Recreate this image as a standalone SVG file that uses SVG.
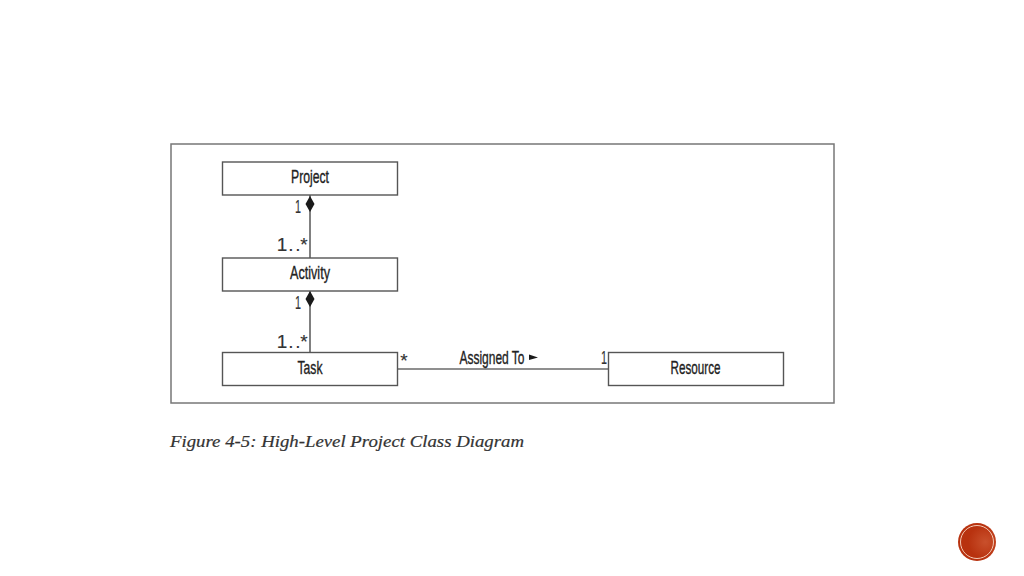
<svg xmlns="http://www.w3.org/2000/svg" width="1024" height="576" viewBox="0 0 1024 576">
<defs>
<radialGradient id="speck" cx="0.72" cy="0.5" r="0.45"><stop offset="0" stop-color="#c9502c"/><stop offset="1" stop-color="#b8320f"/></radialGradient>
</defs>
<style>
.box{fill:#fff;stroke:#555;stroke-width:1.4}
.ln{stroke:#6a6a6a;stroke-width:1.7;fill:none}
.t{font-family:"Liberation Sans",sans-serif;font-size:18.500px;fill:#222;stroke:#222;stroke-width:.35;text-anchor:middle}
.n{font-family:"Liberation Sans",sans-serif;font-size:19px;fill:#333;stroke:#333;stroke-width:.15;text-anchor:middle}
.d{fill:#1a1a1a}
</style>
<rect width="1024" height="576" fill="#fff"/>
<rect x="171" y="144" width="663" height="259" fill="#fff" stroke="#777" stroke-width="1.5"/>
<g id="connectors">
<line class="ln" x1="310" y1="195" x2="310" y2="258"/>
<line class="ln" x1="310" y1="291" x2="310" y2="352"/>
<line class="ln" x1="397" y1="369" x2="608" y2="369"/>
<polygon class="d" points="310,196 314.500,204 310,212 305.500,204"/>
<polygon class="d" points="310,291 314.500,299 310,307 305.500,299"/>
</g>
<g id="project"><rect class="box" x="222.500" y="162" width="175" height="33"/><text class="t" x="310" y="183" textLength="38" lengthAdjust="spacingAndGlyphs">Project</text></g>
<g id="activity"><rect class="box" x="222.500" y="258" width="175" height="33"/><text class="t" x="310" y="279" textLength="40" lengthAdjust="spacingAndGlyphs">Activity</text></g>
<g id="task"><rect class="box" x="222.500" y="352.500" width="175" height="33"/><text class="t" x="310" y="374" textLength="25" lengthAdjust="spacingAndGlyphs">Task</text></g>
<g id="resource"><rect class="box" x="608.500" y="352.500" width="175" height="33"/><text class="t" x="695.500" y="374" textLength="50" lengthAdjust="spacingAndGlyphs">Resource</text></g>
<g id="labels">
<text class="n" x="298" y="213" textLength="6" lengthAdjust="spacingAndGlyphs">1</text>
<text class="n" x="282 291 298 304" y="251" font-size="17">1..*</text>
<text class="n" x="298" y="309" textLength="6" lengthAdjust="spacingAndGlyphs">1</text>
<text class="n" x="282 291 298 304" y="348" font-size="17">1..*</text>
<text class="n" x="404" y="367" font-size="13">*</text>
<text class="t" x="492" y="364" textLength="65" lengthAdjust="spacingAndGlyphs">Assigned To</text>
<polygon class="d" points="529,354.500 538,357.500 529,360"/>
<text class="n" x="604" y="364" textLength="6" lengthAdjust="spacingAndGlyphs">1</text>
</g>
<text x="170" y="447" font-family="Liberation Serif,serif" font-style="italic" font-size="17.500" fill="#333" stroke="#333" stroke-width=".2" textLength="354" lengthAdjust="spacingAndGlyphs">Figure 4-5: High-Level Project Class Diagram</text>
<g id="badge">
<circle cx="977" cy="542" r="19" fill="url(#speck)"/>
<circle cx="977" cy="542" r="16.500" fill="none" stroke="#f3c9b5" stroke-width="1"/>
</g>
</svg>
